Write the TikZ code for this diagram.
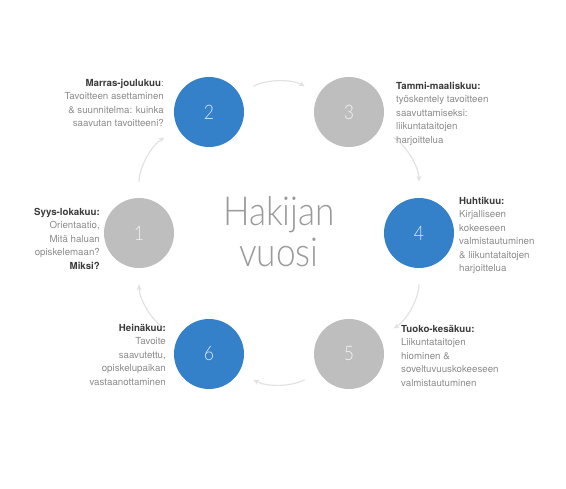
\documentclass[tikz,border=0pt]{standalone}
\usepackage{fontspec}
\setmainfont{TeX Gyre Heros}
\newfontfamily\thinfont{Lato Light}[FakeStretch=0.88]
\usetikzlibrary{arrows.meta}

\definecolor{phaseblue}{HTML}{3481C9}
\definecolor{phasegray}{HTML}{BEBEBE}
\definecolor{flowgray}{HTML}{E2E2E2}
\definecolor{infogray}{HTML}{8A8A8A}
\definecolor{headgray}{HTML}{3A3A3A}
\definecolor{titlegray}{HTML}{9A9A9A}

\newcommand{\head}[1]{{\color{headgray}\bfseries #1}}

\begin{document}
\begin{tikzpicture}[
        x=1pt, y=-1pt,
        phase/.style={circle, minimum size=70pt, inner sep=0pt, text=white, text opacity=0.8,
            font=\thinfont\fontsize{20}{20}\selectfont},
        bluephase/.style={phase, fill=phaseblue},
        grayphase/.style={phase, fill=phasegray},
        info/.style={inner sep=0pt, text=infogray, font=\fontsize{9.7}{13.5}\selectfont},
        flow/.style={-{Stealth[length=6pt, width=5pt]}, line width=1.2pt, draw=flowgray,
            shorten >=16pt, shorten <=16pt, bend left=30}
    ]
        \useasboundingbox (0,0) rectangle (566,489);

        % Title
        \node[text=titlegray, align=center, font=\thinfont\fontsize{40}{41}\selectfont] (title) at (279,232) {Hakijan\\vuosi};

        % Phases
        \node[grayphase] (c1) at (139,233) {1};
        \node[bluephase] (c2) at (209,112) {2};
        \node[grayphase] (c3) at (349,112) {3};
        \node[bluephase] (c4) at (419,233) {4};
        \node[grayphase] (c5) at (349,354) {5};
        \node[bluephase] (c6) at (209,354) {6};

        % Arrows
        \draw[flow] (c1) to (c2);
        \draw[flow] (c2) to (c3);
        \draw[flow] (c3) to (c4);
        \draw[flow] (c4) to (c5);
        \draw[flow] (c5) to (c6);
        \draw[flow] (c6) to (c1);

        % Descriptions
        \node[info, align=right, anchor=north east] (t1) at (100,208)
            {\head{Syys-lokakuu:}\\Orientaatio,\\Mitä haluan\\opiskelemaan?\\\head{Miksi?}};
        \node[info, align=right, anchor=north east] (t2) at (164,79)
            {\head{Marras-joulukuu}:\\Tavoitteen asettaminen\\\& suunnitelma: kuinka\\saavutan tavoitteeni?};
        \node[info, align=left, anchor=north west] (t3) at (396,82)
            {\head{Tammi-maaliskuu:}\\työskentely tavoitteen\\saavuttamiseksi:\\liikuntataitojen\\harjoittelua};
        \node[info, align=left, anchor=north west] (t4) at (459,197)
            {\head{Huhtikuu:}\\Kirjalliseen\\kokeeseen\\valmistautuminen\\\& liikuntataitojen\\harjoittelua};
        \node[info, align=left, anchor=north west] (t5) at (401,325)
            {\head{Tuoko-kesäkuu:}\\Liikuntataitojen\\hiominen \&\\soveltuvuuskokeeseen\\valmistautuminen};
        \node[info, align=right, anchor=north east] (t6) at (166,324)
            {\head{Heinäkuu:}\\Tavoite\\saavutettu,\\opiskelupaikan\\vastaanottaminen};
    \end{tikzpicture}
\end{document}
